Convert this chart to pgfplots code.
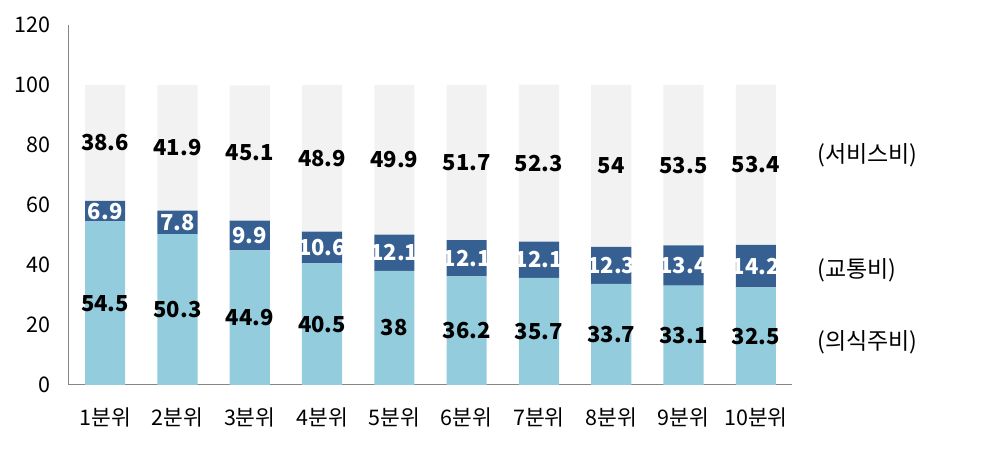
\documentclass[border=0pt]{standalone}
\usepackage{fontspec}
\setmainfont{Noto Sans CJK KR}
\usepackage{pgfplots}
\pgfplotsset{compat=1.18}
\usepackage{pgfplotstable}
\definecolor{food}{HTML}{93CDDD}
\definecolor{trans}{HTML}{376092}
\definecolor{serv}{HTML}{F2F2F2}
\definecolor{axisgray}{HTML}{868686}

\pgfplotstableread{
x a b c
0 54.5 6.9 38.6
1 50.3 7.8 41.9
2 44.9 9.9 45.1
3 40.5 10.6 48.9
4 38 12.1 49.9
5 36.2 12.1 51.7
6 35.7 12.1 52.3
7 33.7 12.3 54
8 33.1 13.4 53.5
9 32.5 14.2 53.4
}\data

\begin{document}
\begin{tikzpicture}
\begin{axis}[
  scale only axis, width=723pt, height=360pt,
  ybar stacked, bar width=0.555,
  xmin=-0.5, xmax=9.5, ymin=0, ymax=120,
  ytick={0,20,...,120},
  xtick={0,...,9},
  xticklabels={1분위,2분위,3분위,4분위,5분위,6분위,7분위,8분위,9분위,10분위},
  axis x line=bottom, axis y line=left,
  axis line style={axisgray, line width=1pt, -},
  major tick length=0pt,
  tick label style={font=\fontsize{21.5}{21.5}\selectfont, black},
  /pgf/number format/assume math mode=true,
  yticklabel style={xshift=-15pt},
  xticklabel style={yshift=-19pt},
  clip=false,
  nodes near coords, point meta=explicit,
  nodes near coords align={center},
]
\addplot[fill=food, draw=none,
  every node near coord/.append style={font=\fontsize{22}{22}\selectfont\bfseries, text=black}]
  table[x=x, y=a, meta=a]{\data};
\addplot[fill=trans, draw=none,
  every node near coord/.append style={font=\fontsize{22}{22}\selectfont\bfseries, text=white}]
  table[x=x, y=b, meta=b]{\data};
\addplot[fill=serv, draw=none,
  every node near coord/.append style={font=\fontsize{22}{22}\selectfont\bfseries, text=black}]
  table[x=x, y=c, meta=c]{\data};
\node[anchor=west, inner sep=0pt, font=\fontsize{23}{23}\selectfont] at (axis cs:9.85,76.7) {(서비스비)};
\node[anchor=west, inner sep=0pt, font=\fontsize{23}{23}\selectfont] at (axis cs:9.85,38.3) {(교통비)};
\node[anchor=west, inner sep=0pt, font=\fontsize{23}{23}\selectfont] at (axis cs:9.85,14.3) {(의식주비)};
\coordinate (ll) at (rel axis cs:0,0);
\coordinate (ur) at (rel axis cs:1,1);
\end{axis}
\pgfresetboundingbox
\path ([shift={(-69pt,-65pt)}]ll) rectangle ([shift={(204pt,25pt)}]ur);
\end{tikzpicture}
\end{document}
